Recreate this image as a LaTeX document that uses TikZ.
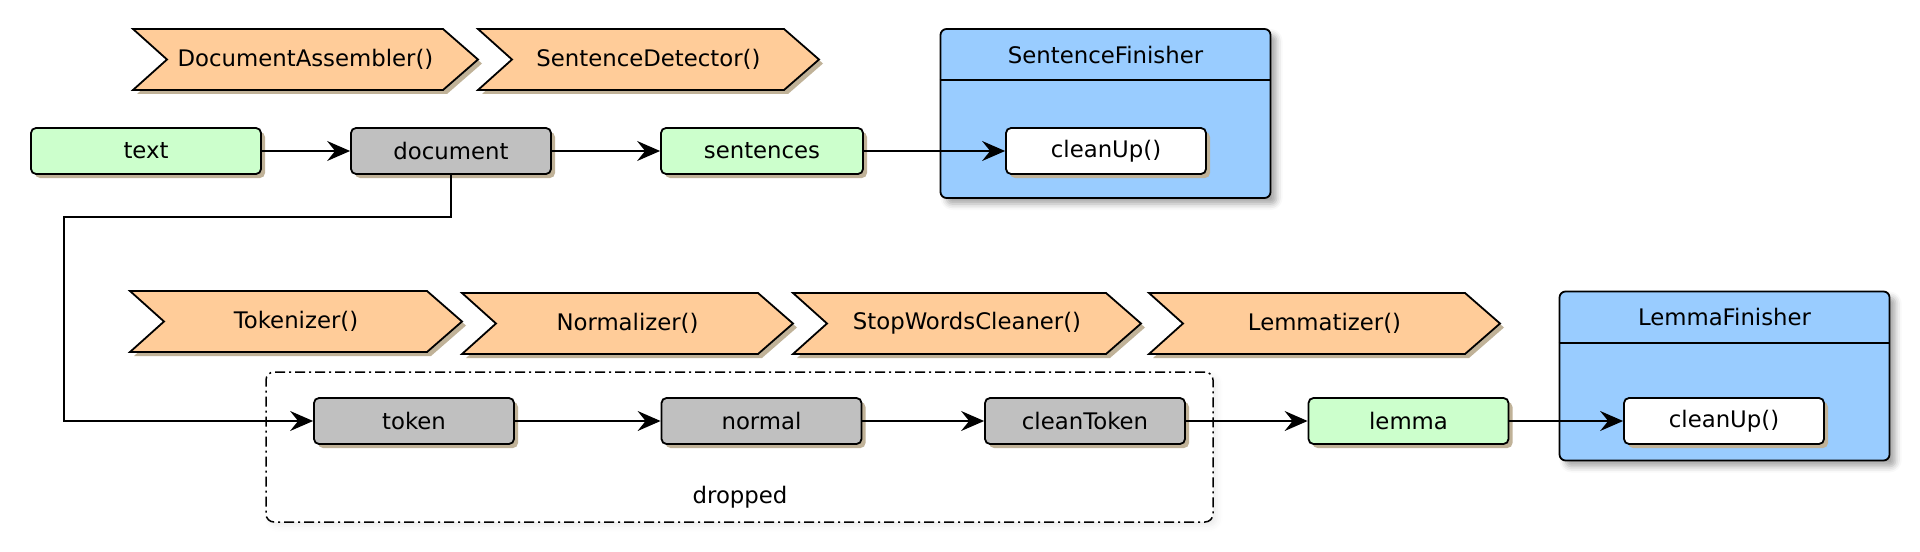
\documentclass[tikz,border=0pt]{standalone}
\usepackage{fontspec}
\setmainfont{DejaVu Sans}
\usetikzlibrary{arrows.meta,shadows,shadows.blur,calc}
\definecolor{greenfill}{HTML}{CCFFCC}
\definecolor{grayfill}{HTML}{C0C0C0}
\definecolor{orangefill}{HTML}{FFCC99}
\definecolor{bluefill}{HTML}{99CCFF}
\definecolor{shadowtan}{RGB}{192,178,152}
\newcommand{\chevshape}[6]{%
  \path[draw, fill=orangefill, line width=0.9pt, line join=miter,
    drop shadow={shadow xshift=2pt, shadow yshift=-2pt, fill=shadowtan, opacity=1}]
    (#1,#3) -- ({#2-35},#3) -- (#2,{(#3+#4)/2}) -- ({#2-35},#4) -- (#1,#4) -- ({#1+34},{(#3+#4)/2}) -- cycle;
  \node[txt] (#5) at ({(#1+#2)/2},{(#3+#4)/2}) {#6};}
\begin{document}
\begin{tikzpicture}[x=0.5pt,y=-0.5pt, font=\fontsize{11.4}{13}\selectfont,
  txt/.style={inner sep=0pt},
  box/.style={draw, line width=0.9pt, rounded corners=2.5pt, minimum height=23pt, minimum width=100pt, inner sep=0pt,
    drop shadow={shadow xshift=2pt, shadow yshift=-2pt, fill=shadowtan, opacity=1}},
  greenbox/.style={box, fill=greenfill},
  graybox/.style={box, fill=grayfill},
  whitebox/.style={box, fill=white},
  frame/.style={draw, line width=0.9pt, rounded corners=3pt, fill=bluefill, inner sep=0pt,
    minimum width=165pt, minimum height=84.5pt,
    blur shadow={shadow xshift=3pt, shadow yshift=-3pt, shadow blur radius=3pt, shadow opacity=35}},
  conn/.style={line width=0.75pt, -{Stealth[length=11.5pt,width=10pt,inset=4pt]}}]
\useasboundingbox (0,0) rectangle (1920,551);

% chevrons
\chevshape{133}{478}{29}{90}{da}{DocumentAssembler()}
\chevshape{478}{819}{29}{90}{sd}{SentenceDetector()}
\chevshape{130}{462}{291}{352}{tk}{Tokenizer()}
\chevshape{462}{793}{293}{354}{nm}{Normalizer()}
\chevshape{793}{1141}{293}{354}{sw}{StopWordsCleaner()}
\chevshape{1149}{1500}{293}{354}{lm}{Lemmatizer()}

% frames
\node[frame] (sf) at (1105.5,113.5) {};
\draw[line width=0.9pt] ([yshift=-26pt]sf.north west) -- ([yshift=-26pt]sf.north east);
\node[txt] (sft) at (1105.5,55) {SentenceFinisher};
\node[frame] (lf) at (1724.5,376) {};
\draw[line width=0.9pt] ([yshift=-26pt]lf.north west) -- ([yshift=-26pt]lf.north east);
\node[txt] (lft) at (1724.5,317) {LemmaFinisher};

% dropped group
\node[draw, fill=white, line width=0.75pt, dash pattern=on 5pt off 2pt on 1pt off 2pt, rounded corners=4pt,
  minimum width=473.5pt, minimum height=75pt, inner sep=0pt,
  blur shadow={shadow xshift=2pt, shadow yshift=-2pt, shadow blur radius=3pt, shadow opacity=8}] (drop) at (739.5,447) {};
\node[txt] (dropl) at (740,497) {dropped};

% boxes top row
\node[greenbox, minimum width=115pt] (text) at (146,151) {text};
\node[graybox] (doc) at (451,151) {document};
\node[greenbox, minimum width=101pt] (sent) at (762,151) {sentences};
\node[whitebox] (cu1) at (1106,151) {cleanUp()};

% boxes bottom row
\node[graybox] (tok) at (414,421) {token};
\node[graybox] (norm) at (761.5,421) {normal};
\node[graybox] (ct) at (1085,421) {cleanToken};
\node[greenbox] (lem) at (1408.5,421) {lemma};
\node[whitebox] (cu2) at (1724,421) {cleanUp()};

% connectors
\draw[conn] (text) -- (doc);
\draw[conn] (doc) -- (sent);
\draw[conn] (sent) -- (cu1);
\coordinate (bend) at (64,217);
\draw[conn] (doc.south) |- (bend) |- (tok.west);
\draw[conn] (tok) -- (norm);
\draw[conn] (norm) -- (ct);
\draw[conn] (ct) -- (lem);
\draw[conn] (lem) -- (cu2);
\end{tikzpicture}
\end{document}
